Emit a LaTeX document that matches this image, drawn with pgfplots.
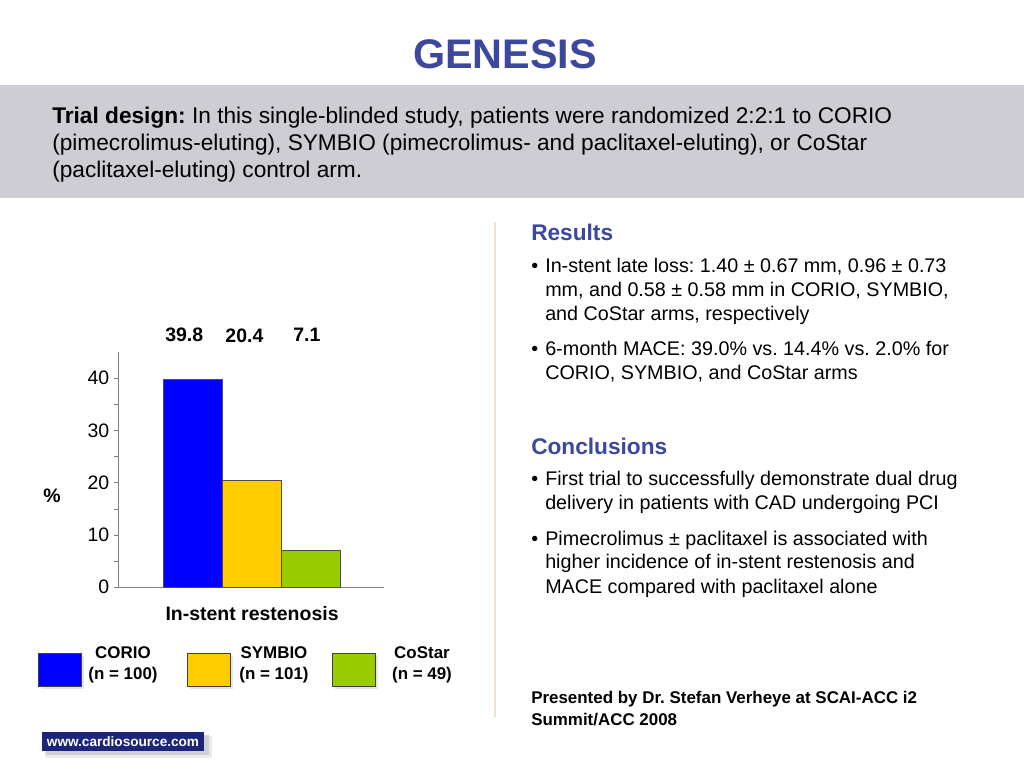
\documentclass[border=0pt]{standalone}
\usepackage{pgfplots}
\pgfplotsset{compat=1.18}
\usepackage{fontspec}
\setmainfont{Liberation Sans}
\frenchspacing

\definecolor{titleblue}{RGB}{59,72,158}
\definecolor{band}{RGB}{205,205,211}
\definecolor{barblue}{RGB}{0,0,255}
\definecolor{baryellow}{RGB}{255,204,0}
\definecolor{bargreen}{RGB}{153,204,0}
\definecolor{navy}{RGB}{28,38,120}
\definecolor{sepline}{RGB}{236,226,208}
\definecolor{axgray}{RGB}{128,128,128}

\newcommand\fs[1]{\fontsize{#1}{#1}\selectfont}

\begin{document}
\begin{tikzpicture}
% slide drawn in pixel units (1024 x 768), y pointing down
\begin{scope}[x=0.75pt,y=-0.75pt,every node/.style={inner sep=0pt}]
  \fill[white] (0,0) rectangle (1024,768);
  \fill[band] (0,85) rectangle (1024,198);
  \draw[sepline, line width=1.2pt] (495,222) -- (495,717);

  \node[anchor=base, font=\fs{31}\bfseries, text=titleblue] at (505,68) {GENESIS};

  % trial design
  \begin{scope}[every node/.append style={anchor=base west, font=\fs{17}}]
    \node at (52,123) {\textbf{Trial design:} In this single-blinded study, patients were randomized 2:2:1 to CORIO};
    \node at (52,150) {(pimecrolimus-eluting), SYMBIO (pimecrolimus- and paclitaxel-eluting), or CoStar};
    \node at (52,177) {(paclitaxel-eluting) control arm.};
  \end{scope}

  % right column
  \node[anchor=base west, font=\fs{17}\bfseries, text=titleblue] at (531,240) {Results};
  \node[anchor=base west, font=\fs{17}\bfseries, text=titleblue] at (531,454) {Conclusions};
  \begin{scope}[every node/.append style={anchor=base west, font=\fs{14.8}}]
    \node at (531,272) {•};
    \node at (545,272) {In-stent late loss: 1.40 ± 0.67 mm, 0.96 ± 0.73};
    \node at (545,296) {mm, and 0.58 ± 0.58 mm in CORIO, SYMBIO,};
    \node at (545,320) {and CoStar arms, respectively};
    \node at (531,355) {•};
    \node at (545,355) {6-month MACE: 39.0\% vs. 14.4\% vs. 2.0\% for};
    \node at (545,379) {CORIO, SYMBIO, and CoStar arms};
    \node at (531,485) {•};
    \node at (545,485) {First trial to successfully demonstrate dual drug};
    \node at (545,509) {delivery in patients with CAD undergoing PCI};
    \node at (531,545) {•};
    \node at (545,545) {Pimecrolimus ± paclitaxel is associated with};
    \node at (545,568) {higher incidence of in-stent restenosis and};
    \node at (545,593) {MACE compared with paclitaxel alone};
  \end{scope}
  \begin{scope}[every node/.append style={anchor=base west, font=\fs{12.7}\bfseries}]
    \node at (531,703) {Presented by Dr. Stefan Verheye at SCAI-ACC i2};
    \node at (531,725) {Summit/ACC 2008};
  \end{scope}

  % legend swatches
  \foreach \x/\c in {38/barblue,187/baryellow,332/bargreen}{
    \fill[black!10] (\x+3,656) rectangle (\x+46,689);
    \filldraw[fill=\c, draw=black!75, line width=0.6pt] (\x,653) rectangle (\x+43,686);
  }
  \begin{scope}[every node/.append style={anchor=base, font=\fs{12.7}\bfseries}]
    \node at (123,658) {CORIO};   \node at (123,679) {(n = 100)};
    \node at (274,658) {SYMBIO};  \node at (274,679) {(n = 101)};
    \node at (422,658) {CoStar};  \node at (422,679) {(n = 49)};
  \end{scope}

  % footer logo
  \fill[black!8] (45,736) rectangle (212,758);
  \fill[black!18] (46,735) rectangle (209,755);
  \fill[navy] (42,732) rectangle (204,751);
  \node[font=\fs{10.2}\bfseries, text=white] at (123,741.5) {www.cardiosource.com};
\end{scope}

\begin{axis}[
  at={(88.5pt,-440.25pt)}, anchor=south west,
  scale only axis, width=199.5pt, height=176.25pt,
  xmin=-1.263, xmax=3.246, ymin=0, ymax=45,
  axis lines=left, axis line style={axgray,-},
  xtick=\empty, ytick={0,10,20,30,40}, minor ytick={5,15,25,35},
  tick align=outside, tick style={axgray},
  major tick length=3pt, minor tick length=3pt,
  ticklabel style={font=\fs{14.6}},
  /pgf/number format/assume math mode=true,
  clip=false,
  xlabel={In-stent restenosis},
  xlabel style={at={(axis description cs:0.504,-0.115)}, anchor=center, font=\fs{14.6}\bfseries},
  ylabel={\%},
  ylabel style={at={(axis description cs:-0.248,0.387)}, rotate=-90, anchor=center, font=\fs{14.6}\bfseries},
]
  \addplot[ybar, bar width=44.25pt, bar shift=0pt, fill=barblue, draw=black!70, line width=0.5pt] coordinates {(0,39.8)};
  \addplot[ybar, bar width=44.25pt, bar shift=0pt, fill=baryellow, draw=black!70, line width=0.5pt] coordinates {(1,20.4)};
  \addplot[ybar, bar width=44.25pt, bar shift=0pt, fill=bargreen, draw=black!70, line width=0.5pt] coordinates {(2,7.1)};
  \addplot[draw=none, mark=none, nodes near coords, point meta=explicit symbolic,
    nodes near coords style={anchor=center, font=\fs{14.6}\bfseries, inner sep=0pt}]
    coordinates {(-0.14,48.2)[39.8] (0.88,48.2)[20.4] (1.94,48.2)[7.1]};
\end{axis}

\pgfresetboundingbox
\path (0,0) rectangle (768pt,-576pt);
\end{tikzpicture}
\end{document}
